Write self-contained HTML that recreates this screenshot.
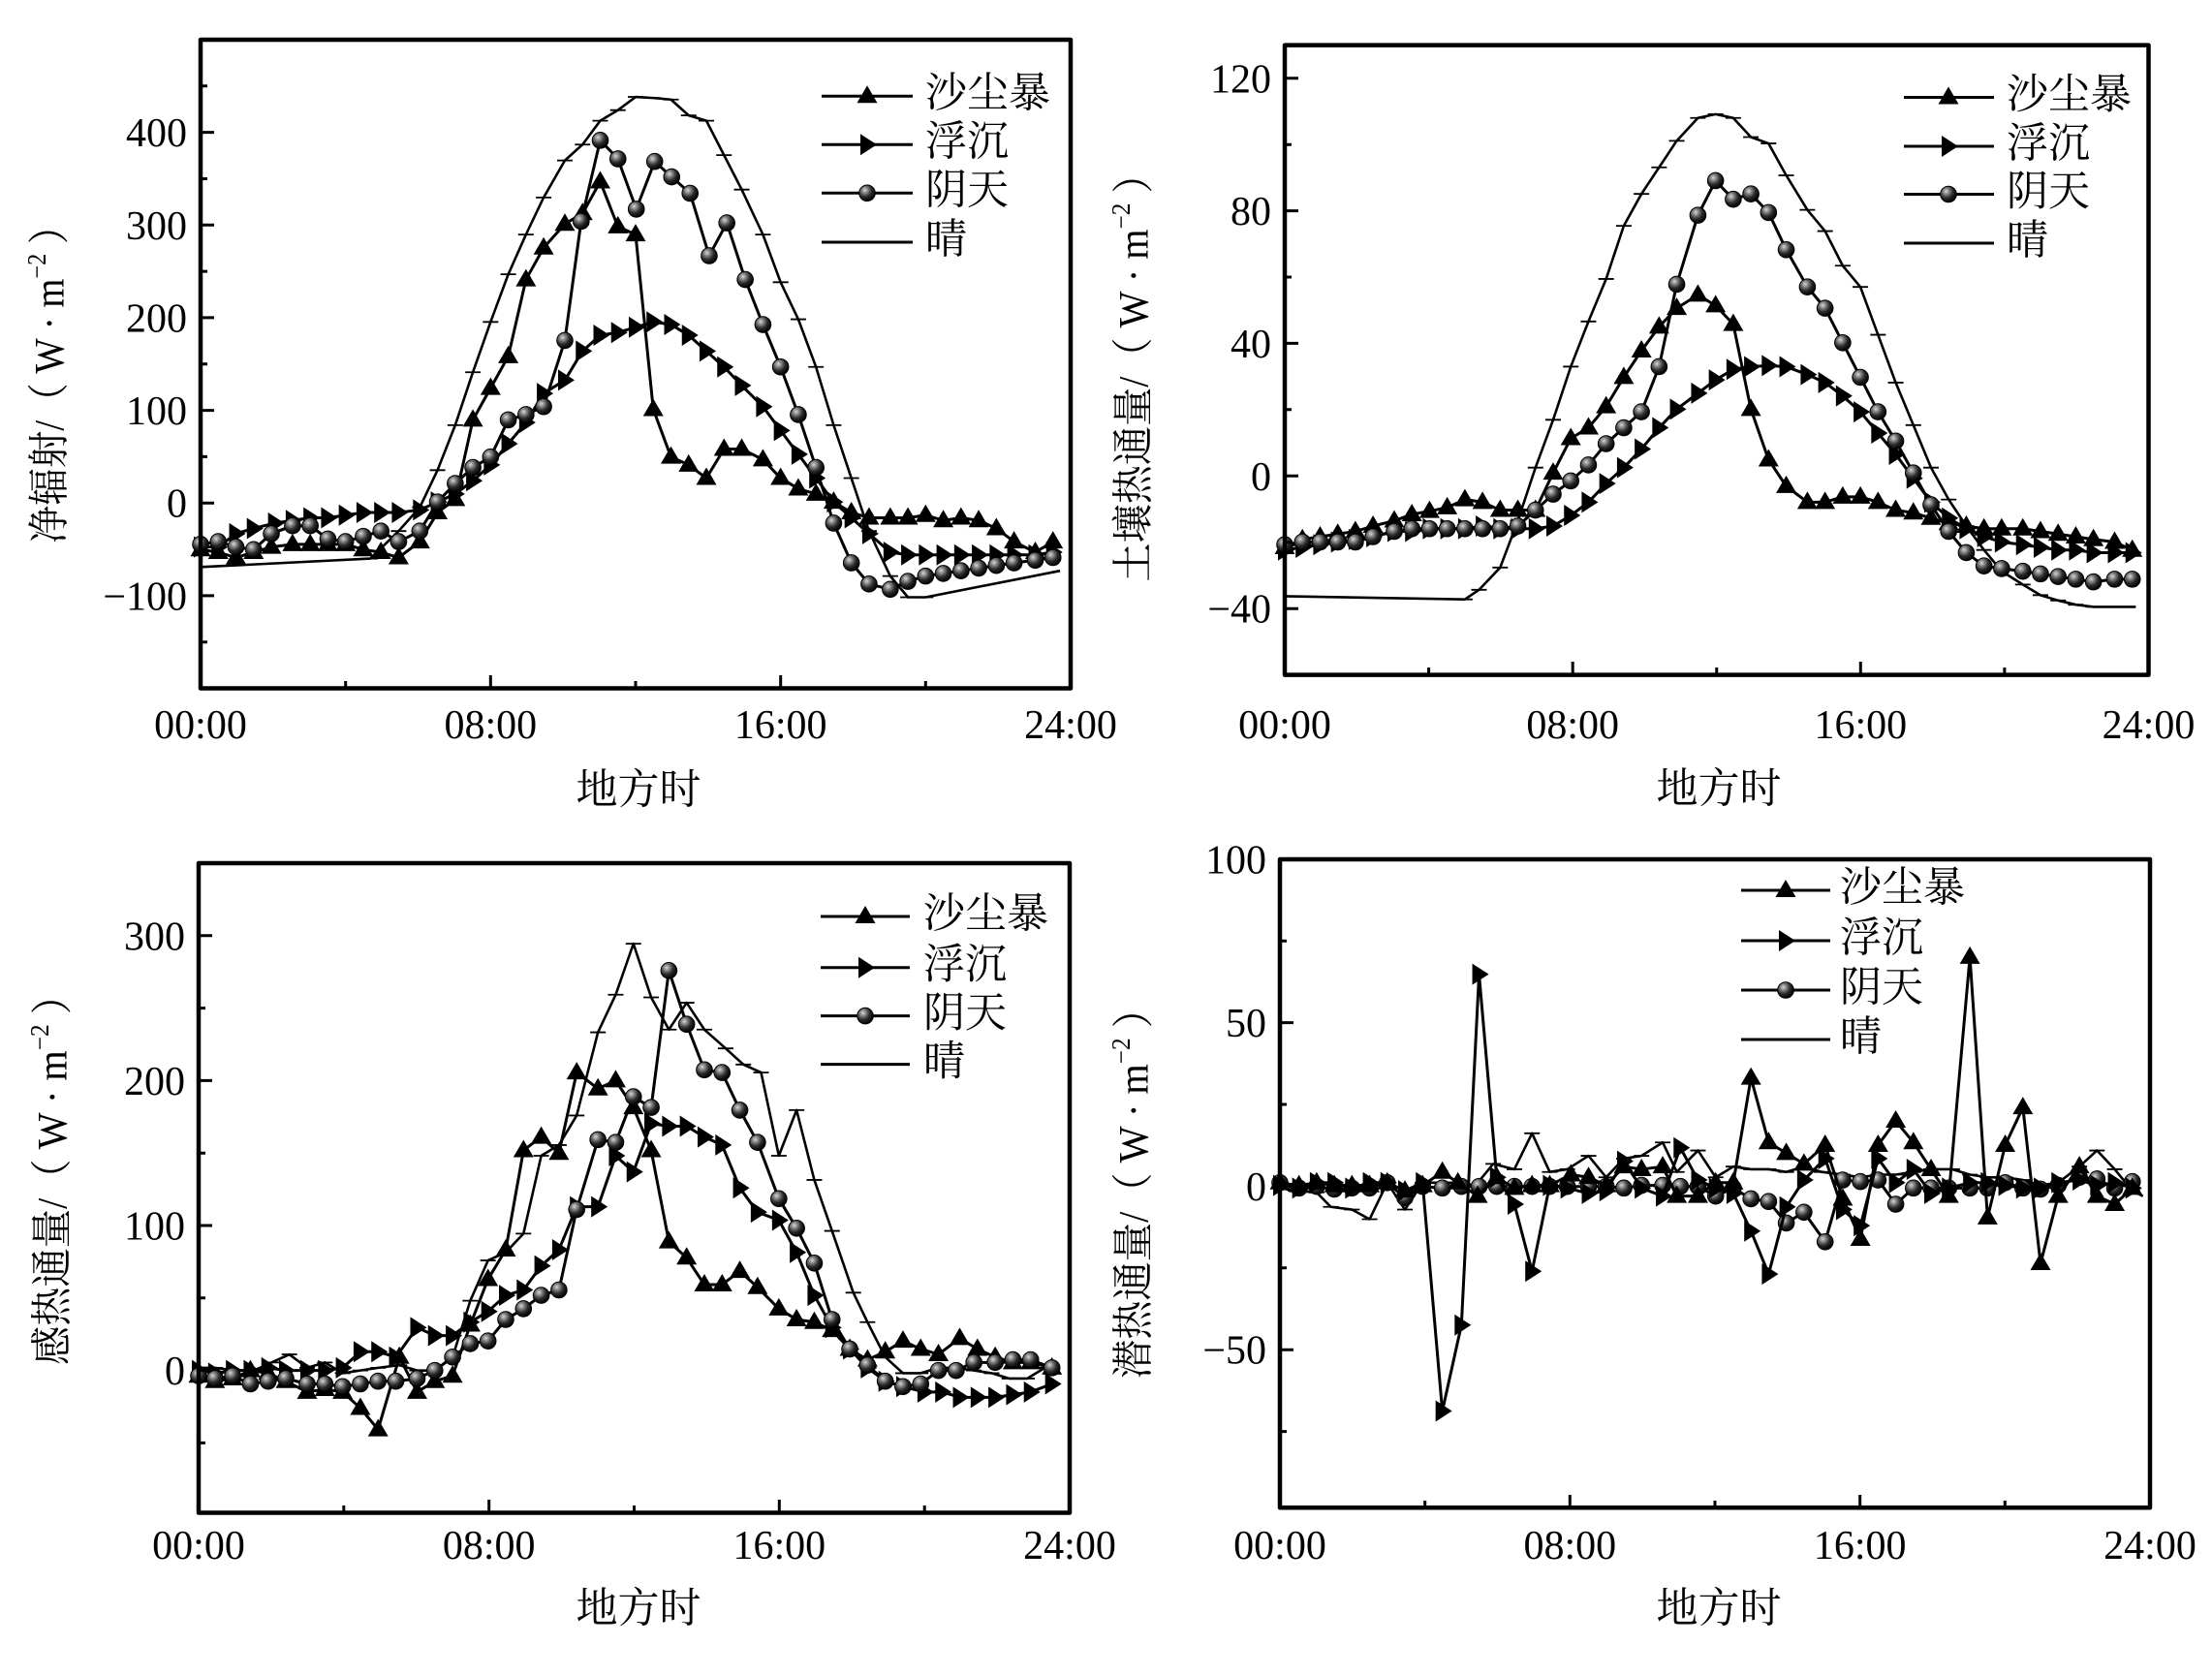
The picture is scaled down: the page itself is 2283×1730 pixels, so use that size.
<!DOCTYPE html>
<html><head><meta charset="utf-8"><style>
html,body{margin:0;padding:0;background:#fff;}
svg{display:block;}
text{font-family:"Liberation Serif","Noto Serif CJK SC",serif;fill:#000;}
.cj{font-family:"Liberation Serif","Noto Serif CJK SC",serif;font-size:43px;}
.tk{font-size:42px;}
</style></head><body>
<svg width="2283" height="1730" viewBox="0 0 2283 1730" xmlns="http://www.w3.org/2000/svg">
<defs>
<radialGradient id="sph" cx="0.36" cy="0.32" r="0.7">
<stop offset="0" stop-color="#d8d8d8"/><stop offset="0.25" stop-color="#8a8a8a"/><stop offset="0.6" stop-color="#2a2a2a"/><stop offset="1" stop-color="#000"/>
</radialGradient>
<g id="tri"><polygon points="0,-11 10.5,7 -10.5,7" fill="#000"/></g>
<g id="rtri"><polygon points="-7,-11 10,0 -7,11" fill="#000"/></g>
<g id="cir"><circle r="8.3" fill="url(#sph)" stroke="#000" stroke-width="1"/></g>
<g id="dsh"><line x1="-8" y1="0" x2="8" y2="0" stroke="#000" stroke-width="1.8"/></g>

<marker id="a1" markerUnits="userSpaceOnUse" overflow="visible" markerWidth="1" markerHeight="1"><g transform="scale(1.36971,1.82973)"><use href="#tri"/></g></marker>
<marker id="a2" markerUnits="userSpaceOnUse" overflow="visible" markerWidth="1" markerHeight="1"><g transform="scale(1.36971,1.82973)"><use href="#rtri"/></g></marker>
<marker id="a3" markerUnits="userSpaceOnUse" overflow="visible" markerWidth="1" markerHeight="1"><g transform="scale(1.36971,1.82973)"><use href="#cir"/></g></marker>
<marker id="a4" markerUnits="userSpaceOnUse" overflow="visible" markerWidth="1" markerHeight="1"><g transform="scale(1.36971,1.82973)"><use href="#dsh"/></g></marker>

<marker id="b1" markerUnits="userSpaceOnUse" overflow="visible" markerWidth="1" markerHeight="1"><g transform="scale(1.37186,1.82309)"><use href="#tri"/></g></marker>
<marker id="b2" markerUnits="userSpaceOnUse" overflow="visible" markerWidth="1" markerHeight="1"><g transform="scale(1.37186,1.82309)"><use href="#rtri"/></g></marker>
<marker id="b3" markerUnits="userSpaceOnUse" overflow="visible" markerWidth="1" markerHeight="1"><g transform="scale(1.37186,1.82309)"><use href="#cir"/></g></marker>
<marker id="b4" markerUnits="userSpaceOnUse" overflow="visible" markerWidth="1" markerHeight="1"><g transform="scale(1.37186,1.82309)"><use href="#dsh"/></g></marker>

<marker id="c1" markerUnits="userSpaceOnUse" overflow="visible" markerWidth="1" markerHeight="1"><g transform="scale(1.36597,1.80463)"><use href="#tri"/></g></marker>
<marker id="c2" markerUnits="userSpaceOnUse" overflow="visible" markerWidth="1" markerHeight="1"><g transform="scale(1.36597,1.80463)"><use href="#rtri"/></g></marker>
<marker id="c3" markerUnits="userSpaceOnUse" overflow="visible" markerWidth="1" markerHeight="1"><g transform="scale(1.36597,1.80463)"><use href="#cir"/></g></marker>
<marker id="c4" markerUnits="userSpaceOnUse" overflow="visible" markerWidth="1" markerHeight="1"><g transform="scale(1.36597,1.80463)"><use href="#dsh"/></g></marker>

<marker id="d1" markerUnits="userSpaceOnUse" overflow="visible" markerWidth="1" markerHeight="1"><g transform="scale(1.37193,1.80339)"><use href="#tri"/></g></marker>
<marker id="d2" markerUnits="userSpaceOnUse" overflow="visible" markerWidth="1" markerHeight="1"><g transform="scale(1.37193,1.80339)"><use href="#rtri"/></g></marker>
<marker id="d3" markerUnits="userSpaceOnUse" overflow="visible" markerWidth="1" markerHeight="1"><g transform="scale(1.37193,1.80339)"><use href="#cir"/></g></marker>
<marker id="d4" markerUnits="userSpaceOnUse" overflow="visible" markerWidth="1" markerHeight="1"><g transform="scale(1.37193,1.80339)"><use href="#dsh"/></g></marker>
</defs>

<rect width="2283" height="1730" fill="#fff"/>

<!-- ================= TOP LEFT ================= -->
<g fill="none" stroke="#000" stroke-linejoin="round">
<g transform="matrix(0.73008,0,0,0.54653,2.58,1.65)">
<polyline vector-effect="non-scaling-stroke" stroke-width="2.6" marker-mid="url(#a4)" points="280,1068 520,1052 560,1000 590,955 615,885 640,800 665,700 690,605 715,515 740,440 765,370 795,300 820,270 845,225 870,205 895,180 920,182 945,185 970,215 995,225 1020,290 1045,355 1075,440 1100,530 1125,600 1150,690 1175,800 1200,900 1225,1000 1255,1085 1280,1125 1305,1125 1495,1075"/>
<polyline vector-effect="non-scaling-stroke" stroke-width="3" marker-start="url(#a2)" marker-mid="url(#a2)" marker-end="url(#a2)" points="280,1030 305,1030 330,1005 355,995 385,985 410,980 435,975 460,975 485,970 510,965 535,965 560,965 590,960 615,945 640,930 665,905 690,875 715,835 740,795 765,740 795,715 820,660 845,630 870,625 895,615 920,605 945,610 970,630 995,660 1020,690 1045,725 1075,765 1100,810 1125,855 1150,900 1175,945 1200,975 1225,1005 1255,1040 1280,1045 1305,1045 1330,1045 1355,1045 1380,1045 1405,1045 1430,1045 1460,1045 1485,1040"/>
<polyline vector-effect="non-scaling-stroke" stroke-width="3" marker-start="url(#a1)" marker-mid="url(#a1)" marker-end="url(#a1)" points="280,1035 305,1040 330,1050 355,1040 380,1030 410,1025 435,1025 460,1025 485,1025 510,1035 535,1040 560,1050 590,1020 615,965 640,940 665,790 690,730 715,670 740,525 765,465 795,420 820,400 845,340 870,425 895,440 920,770 945,860 970,875 995,900 1020,845 1045,845 1075,865 1100,900 1125,920 1150,930 1175,945 1200,965 1225,975 1255,975 1280,975 1305,970 1330,980 1355,975 1380,980 1405,995 1430,1020 1460,1040 1485,1020"/>
<polyline vector-effect="non-scaling-stroke" stroke-width="3" marker-start="url(#a3)" marker-mid="url(#a3)" marker-end="url(#a3)" points="280,1025 305,1020 330,1030 355,1035 380,1005 410,990 435,990 460,1015 485,1020 510,1010 535,1000 560,1020 590,1000 615,945 640,910 665,880 690,860 715,790 740,780 765,765 795,640 818,415 845,262 870,297 896,392 922,302 946,331 972,362 999,480 1024,418 1050,525 1075,610 1100,690 1125,780 1150,880 1175,985 1200,1060 1225,1100 1255,1110 1280,1095 1305,1085 1330,1080 1355,1075 1380,1070 1405,1065 1430,1060 1460,1055 1485,1050"/>
</g>
<rect x="207" y="41" width="898" height="669.5" stroke-width="4.5"/>
<path stroke-width="3" d="M207 614.9H221M207 519.2H221M207 423.6H221M207 327.9H221M207 232.3H221M207 136.6H221M207 662.7H214M207 567H214M207 471.4H214M207 375.8H214M207 280.1H214M207 184.5H214M207 88.8H214M506.3 710.5V697M805.7 710.5V697M356.7 710.5V703M656 710.5V703M955.3 710.5V703"/>
<g stroke-width="3">
<line x1="848" y1="99.3" x2="942" y2="99.3"/><line x1="848" y1="149.3" x2="942" y2="149.3"/><line x1="848" y1="199.3" x2="942" y2="199.3"/><line x1="848" y1="250" x2="942" y2="250"/>
</g>
</g>
<use href="#tri" x="895" y="99.3"/><use href="#rtri" x="895" y="149.3"/><use href="#cir" x="895" y="199.3"/>
<g class="cj" dominant-baseline="central">
<text x="955" y="97">沙尘暴</text><text x="955" y="147">浮沉</text><text x="955" y="197">阴天</text><text x="955" y="248">晴</text>
</g>
<g class="tk" text-anchor="end">
<text x="193" y="151.1">400</text><text x="193" y="246.8">300</text><text x="193" y="342.4">200</text><text x="193" y="438.1">100</text><text x="193" y="533.7">0</text><text x="193" y="629.4">−100</text>
</g>
<g class="tk" text-anchor="middle">
<text x="207" y="762">00:00</text><text x="506.3" y="762">08:00</text><text x="805.7" y="762">16:00</text><text x="1105" y="762">24:00</text>
</g>
<text class="cj" x="659" y="816" text-anchor="middle" dominant-baseline="central">地方时</text>
<text class="cj" transform="translate(52,387) rotate(-90)" text-anchor="middle" dominant-baseline="central" textLength="347" lengthAdjust="spacingAndGlyphs">净辐射/（ W · m<tspan font-size="27" dy="-14">−2</tspan><tspan dy="14"> ）</tspan></text>

<!-- ================= TOP RIGHT ================= -->
<g fill="none" stroke="#000" stroke-linejoin="round">
<g transform="matrix(0.72894,0,0,0.54852,1140.12,-0.02)">
<polyline vector-effect="non-scaling-stroke" stroke-width="2.6" marker-mid="url(#b4)" points="255,1122 510,1128 530,1110 560,1068 585,980 610,880 635,790 660,690 685,605 710,525 735,425 760,365 785,315 810,265 840,222 865,215 890,222 915,258 940,270 965,330 995,395 1020,435 1045,500 1070,540 1095,630 1120,720 1145,800 1170,880 1195,940 1220,990 1245,1035 1270,1075 1300,1100 1325,1120 1350,1130 1375,1138 1400,1142 1460,1142"/>
<polyline vector-effect="non-scaling-stroke" stroke-width="3" marker-start="url(#b2)" marker-mid="url(#b2)" marker-end="url(#b2)" points="255,1035 280,1030 305,1025 330,1020 355,1015 380,1010 410,1000 435,1000 460,995 485,995 510,995 535,990 560,995 585,995 610,995 635,990 660,970 685,945 710,910 735,880 760,845 785,805 810,770 840,740 865,715 890,695 915,690 940,688 965,690 995,705 1020,720 1045,745 1070,775 1095,815 1120,855 1145,900 1170,945 1195,975 1220,995 1245,1010 1270,1020 1300,1025 1325,1030 1350,1035 1375,1035 1400,1040 1430,1040 1455,1040"/>
<polyline vector-effect="non-scaling-stroke" stroke-width="3" marker-start="url(#b1)" marker-mid="url(#b1)" marker-end="url(#b1)" points="255,1030 280,1015 305,1010 330,1005 355,1000 380,990 410,980 435,968 460,962 485,955 510,940 535,945 560,960 585,960 610,960 635,890 660,825 685,805 710,765 735,710 760,660 785,615 810,580 840,555 865,575 890,610 915,770 940,865 965,915 995,945 1020,945 1045,935 1070,935 1095,945 1120,960 1145,965 1170,975 1195,985 1220,990 1245,995 1270,995 1300,995 1325,1000 1350,1005 1375,1010 1400,1015 1430,1020 1455,1035"/>
<polyline vector-effect="non-scaling-stroke" stroke-width="3" marker-start="url(#b3)" marker-mid="url(#b3)" marker-end="url(#b3)" points="255,1025 280,1020 305,1020 330,1020 355,1020 380,1010 410,1000 435,995 460,995 485,995 510,995 535,995 560,995 585,990 610,960 635,930 660,905 685,875 710,835 735,805 760,775 785,690 810,535 840,405 865,340 890,375 915,365 940,400 965,470 995,540 1020,580 1045,645 1070,710 1095,775 1120,830 1145,890 1170,950 1195,1000 1220,1040 1245,1065 1270,1070 1300,1075 1325,1080 1350,1085 1375,1090 1400,1095 1430,1090 1455,1090"/>
</g>
<rect x="1326" y="46.6" width="891.5" height="650" stroke-width="4.5"/>
<path stroke-width="3" d="M1326 80.8H1340M1326 217.6H1340M1326 354.4H1340M1326 491.3H1340M1326 628.2H1340M1326 149.2H1333M1326 286H1333M1326 422.8H1333M1326 559.7H1333M1623.2 696.6V683M1920.3 696.6V683M1474.6 696.6V689M1771.75 696.6V689M2068.9 696.6V689"/>
<g stroke-width="3">
<line x1="1965" y1="100.5" x2="2058" y2="100.5"/><line x1="1965" y1="151" x2="2058" y2="151"/><line x1="1965" y1="200.5" x2="2058" y2="200.5"/><line x1="1965" y1="251" x2="2058" y2="251"/>
</g>
</g>
<use href="#tri" x="2011" y="100.5"/><use href="#rtri" x="2011" y="151"/><use href="#cir" x="2011" y="200.5"/>
<g class="cj" dominant-baseline="central">
<text x="2071" y="98.5">沙尘暴</text><text x="2071" y="149">浮沉</text><text x="2071" y="198.5">阴天</text><text x="2071" y="249">晴</text>
</g>
<g class="tk" text-anchor="end">
<text x="1312" y="95.3">120</text><text x="1312" y="232.1">80</text><text x="1312" y="368.9">40</text><text x="1312" y="505.8">0</text><text x="1312" y="642.7">−40</text>
</g>
<g class="tk" text-anchor="middle">
<text x="1326" y="762">00:00</text><text x="1623.2" y="762">08:00</text><text x="1920.3" y="762">16:00</text><text x="2217.5" y="762">24:00</text>
</g>
<text class="cj" x="1774" y="815" text-anchor="middle" dominant-baseline="central">地方时</text>
<text class="cj" transform="translate(1171,380) rotate(-90)" text-anchor="middle" dominant-baseline="central" textLength="441" lengthAdjust="spacingAndGlyphs">土壤热通量/（ W · m<tspan font-size="27" dy="-14">−2</tspan><tspan dy="14"> ）</tspan></text>

<!-- ================= BOTTOM LEFT ================= -->
<g fill="none" stroke="#000" stroke-linejoin="round">
<g transform="matrix(0.73208,0,0,0.55413,2.21,860.52)">
<polyline vector-effect="non-scaling-stroke" stroke-width="2.6" marker-mid="url(#c4)" points="277,995 300,995 330,1000 355,1000 380,985 405,970 430,995 455,985 480,1005 505,1000 530,995 560,990 585,1000 610,1000 635,975 660,870 685,795 710,780 735,745 760,600 785,580 810,525 840,370 865,300 890,205 915,305 940,365 965,315 990,365 1020,400 1045,430 1070,445 1095,600 1120,515 1145,645 1170,740 1200,855 1220,910 1245,975 1270,1005 1295,1005 1320,995 1345,995 1370,1000 1395,1005 1420,1015 1445,1015 1470,995 1490,1000"/>
<polyline vector-effect="non-scaling-stroke" stroke-width="3" marker-start="url(#c2)" marker-mid="url(#c2)" marker-end="url(#c2)" points="277,1000 300,1005 325,1000 350,1000 375,995 400,1000 430,1000 455,1000 480,995 505,965 530,965 555,975 585,920 610,935 635,935 660,910 685,890 710,860 735,850 760,805 785,775 810,695 840,695 865,600 890,630 915,540 940,545 965,545 990,565 1015,580 1040,660 1065,705 1095,720 1120,780 1145,860 1170,920 1195,960 1220,995 1245,1020 1270,1030 1300,1040 1325,1040 1350,1050 1375,1050 1400,1050 1425,1045 1450,1040 1480,1025"/>
<polyline vector-effect="non-scaling-stroke" stroke-width="3" marker-start="url(#c1)" marker-mid="url(#c1)" marker-end="url(#c1)" points="277,1010 300,1020 325,1015 350,1000 375,1005 400,1020 430,1040 455,1035 480,1040 505,1070 530,1110 560,975 585,1040 610,1020 635,1010 660,915 685,830 710,775 735,590 760,565 785,595 810,445 840,475 865,460 890,510 915,590 940,760 965,790 990,840 1015,840 1040,815 1065,845 1095,885 1120,905 1145,910 1170,925 1195,960 1220,980 1245,965 1270,945 1295,960 1320,970 1350,940 1375,960 1400,975 1425,985 1450,985 1480,995"/>
<polyline vector-effect="non-scaling-stroke" stroke-width="3" marker-start="url(#c3)" marker-mid="url(#c3)" marker-end="url(#c3)" points="277,1010 300,1015 325,1010 350,1025 375,1020 400,1015 430,1025 455,1025 480,1030 505,1025 530,1020 555,1020 585,1015 610,1000 635,975 660,950 685,945 710,905 735,885 760,860 785,850 810,700 840,570 865,575 890,490 915,510 940,255 965,355 990,440 1015,445 1040,515 1065,575 1095,680 1120,735 1145,800 1170,905 1195,960 1220,990 1245,1020 1270,1030 1295,1025 1320,1000 1345,1000 1370,985 1400,985 1425,980 1450,980 1480,995"/>
</g>
<rect x="205" y="891" width="899" height="670.5" stroke-width="4.5"/>
<path stroke-width="3" d="M205 965.8H219M205 1115.4H219M205 1265H219M205 1414.6H219M205 1040.6H212M205 1190.2H212M205 1339.8H212M205 1489.4H212M504.7 1561.5V1548M804.3 1561.5V1548M354.8 1561.5V1554M654.5 1561.5V1554M954.2 1561.5V1554"/>
<g stroke-width="3">
<line x1="847" y1="946" x2="939" y2="946"/><line x1="847" y1="998.7" x2="939" y2="998.7"/><line x1="847" y1="1048.6" x2="939" y2="1048.6"/><line x1="847" y1="1098.6" x2="939" y2="1098.6"/>
</g>
</g>
<use href="#tri" x="893" y="946"/><use href="#rtri" x="893" y="998.7"/><use href="#cir" x="893" y="1048.6"/>
<g class="cj" dominant-baseline="central">
<text x="953" y="944">沙尘暴</text><text x="953" y="996.7">浮沉</text><text x="953" y="1046.6">阴天</text><text x="953" y="1096.6">晴</text>
</g>
<g class="tk" text-anchor="end">
<text x="191" y="980.3">300</text><text x="191" y="1129.9">200</text><text x="191" y="1279.5">100</text><text x="191" y="1429.1">0</text>
</g>
<g class="tk" text-anchor="middle">
<text x="205" y="1609">00:00</text><text x="504.7" y="1609">08:00</text><text x="804.3" y="1609">16:00</text><text x="1104" y="1609">24:00</text>
</g>
<text class="cj" x="659" y="1661" text-anchor="middle" dominant-baseline="central">地方时</text>
<text class="cj" transform="translate(55,1208) rotate(-90)" text-anchor="middle" dominant-baseline="central" textLength="402" lengthAdjust="spacingAndGlyphs">感热通量/（ W · m<tspan font-size="27" dy="-14">−2</tspan><tspan dy="14"> ）</tspan></text>

<!-- ================= BOTTOM RIGHT ================= -->
<g fill="none" stroke="#000" stroke-linejoin="round">
<g transform="matrix(0.7289,0,0,0.55451,1140.23,860.38)">
<polyline vector-effect="non-scaling-stroke" stroke-width="2.6" marker-mid="url(#d4)" points="248,660 270,665 300,668 320,695 350,700 375,718 400,650 425,700 450,650 500,650 525,655 550,615 580,625 605,558 630,630 655,625 685,600 710,640 735,605 760,600 790,575 810,630 840,590 865,640 890,620 915,625 940,625 965,630 990,620 1015,630 1045,635 1070,640 1095,635 1120,635 1145,630 1170,625 1200,625 1225,635 1250,640 1275,640 1300,645 1325,655 1350,650 1380,620 1405,590 1430,625 1455,665 1470,675"/>
<polyline vector-effect="non-scaling-stroke" stroke-width="3" marker-start="url(#d3)" marker-mid="url(#d3)" marker-end="url(#d3)" points="248,650 275,660 300,657 325,662 350,660 375,660 400,650 425,678 450,657 478,660 505,657 530,657 555,657 580,657 605,657 630,657 655,657 685,657 710,657 735,660 760,655 790,655 815,657 840,657 865,675 890,660 915,680 940,685 965,725 990,705 1020,760 1045,645 1070,648 1095,645 1120,690 1145,660 1170,660 1195,660 1225,660 1250,660 1275,650 1300,660 1325,662 1350,655 1380,640 1405,643 1430,660 1455,648"/>
<polyline vector-effect="non-scaling-stroke" stroke-width="3" marker-start="url(#d2)" marker-mid="url(#d2)" marker-end="url(#d2)" points="248,655 275,660 300,650 325,650 350,660 375,650 400,650 425,665 450,650 478,1075 505,915 530,262 555,640 580,690 605,815 630,655 655,660 685,670 710,665 735,610 760,660 790,675 815,585 840,645 865,660 890,670 915,740 940,820 965,695 990,645 1020,605 1045,700 1070,730 1095,605 1120,650 1145,625 1170,670 1195,660 1225,650 1250,650 1275,655 1300,660 1325,660 1350,650 1380,645 1405,655 1430,650 1455,660"/>
<polyline vector-effect="non-scaling-stroke" stroke-width="3" marker-start="url(#d1)" marker-mid="url(#d1)" marker-end="url(#d1)" points="248,650 275,655 300,650 325,655 350,655 375,655 400,650 425,665 450,655 478,630 500,650 528,675 555,640 580,660 605,655 630,655 660,635 685,640 710,655 735,620 760,625 790,620 810,675 840,675 865,650 890,650 915,455 940,575 965,595 990,615 1020,580 1045,680 1070,755 1095,580 1120,535 1145,575 1170,625 1195,675 1225,230 1250,715 1275,580 1300,510 1325,800 1350,675 1380,620 1405,675 1430,690 1455,660"/>
</g>
<rect x="1321" y="887" width="898" height="669.3" stroke-width="4.5"/>
<path stroke-width="3" d="M1321 1055.6H1335M1321 1224.4H1335M1321 1393.2H1335M1321 971.2H1328M1321 1140H1328M1321 1308.8H1328M1321 1477.6H1328M1620.3 1556.3V1543M1919.7 1556.3V1543M1470.7 1556.3V1549M1770 1556.3V1549M2069.3 1556.3V1549"/>
<g stroke-width="3">
<line x1="1797" y1="919" x2="1889" y2="919"/><line x1="1797" y1="971" x2="1889" y2="971"/><line x1="1797" y1="1022" x2="1889" y2="1022"/><line x1="1797" y1="1073" x2="1889" y2="1073"/>
</g>
</g>
<use href="#tri" x="1843" y="919"/><use href="#rtri" x="1843" y="971"/><use href="#cir" x="1843" y="1022"/>
<g class="cj" dominant-baseline="central">
<text x="1899" y="917">沙尘暴</text><text x="1899" y="969">浮沉</text><text x="1899" y="1020">阴天</text><text x="1899" y="1071">晴</text>
</g>
<g class="tk" text-anchor="end">
<text x="1307" y="901.3">100</text><text x="1307" y="1070.1">50</text><text x="1307" y="1238.9">0</text><text x="1307" y="1407.7">−50</text>
</g>
<g class="tk" text-anchor="middle">
<text x="1321" y="1609">00:00</text><text x="1620.3" y="1609">08:00</text><text x="1919.7" y="1609">16:00</text><text x="2219" y="1609">24:00</text>
</g>
<text class="cj" x="1774" y="1661" text-anchor="middle" dominant-baseline="central">地方时</text>
<text class="cj" transform="translate(1171,1222) rotate(-90)" text-anchor="middle" dominant-baseline="central" textLength="402" lengthAdjust="spacingAndGlyphs">潜热通量/（ W · m<tspan font-size="27" dy="-14">−2</tspan><tspan dy="14"> ）</tspan></text>
</svg>
</body></html>
